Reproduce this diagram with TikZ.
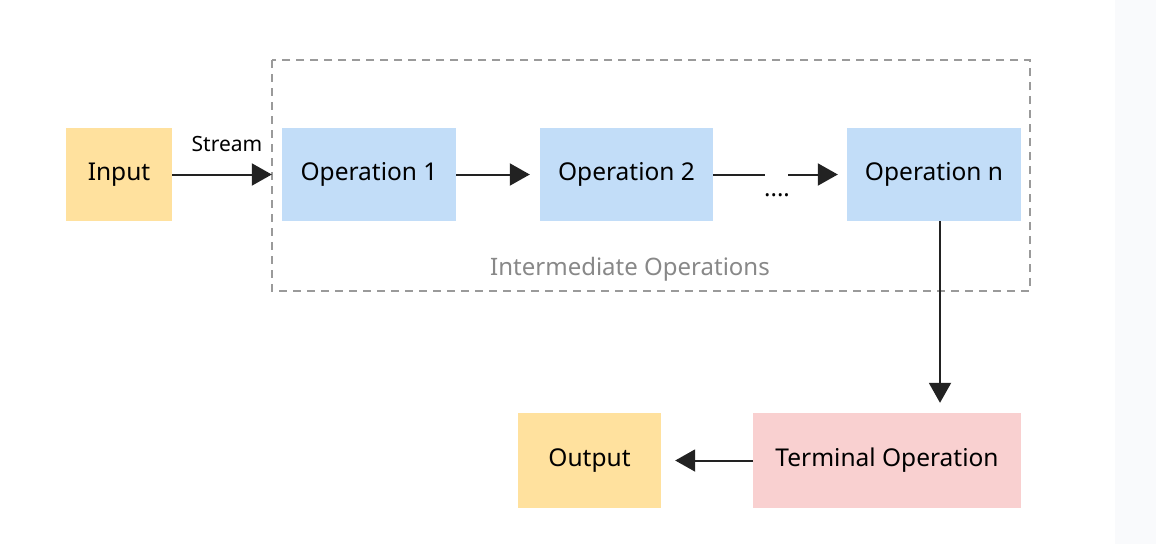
\documentclass[tikz,border=0pt]{standalone}
\usepackage{fontspec}
\setmainfont{Noto Sans}
\usetikzlibrary{arrows.meta}
\definecolor{ylw}{HTML}{FFE19E}
\definecolor{blu}{HTML}{C2DDF8}
\definecolor{pnk}{HTML}{F9D0D0}
\definecolor{ink}{HTML}{222222}
\definecolor{dashgray}{HTML}{9A9A9A}
\definecolor{lblgray}{HTML}{888888}
\definecolor{strip}{HTML}{F9FAFC}
\tikzset{
  box/.style={draw=none, inner sep=0pt, font=\fontsize{24.5}{28}\selectfont, text=black},
  conn/.style={draw=ink, line width=2pt, -{Triangle[length=20pt,width=22pt]}},
  plain/.style={draw=ink, line width=2pt},
}
\begin{document}
\begin{tikzpicture}[x=1pt,y=-1pt]
\path[use as bounding box, fill=white] (0,0) rectangle (1156,544);
\fill[strip] (1115,0) rectangle (1156,544);
\draw[dashgray, line width=1.2pt, dash pattern=on 8pt off 6pt] (272,60) rectangle (1030,291);
\node[box, fill=ylw, minimum width=106pt, minimum height=93pt] (in) at (119,174.5) {Input};
\node[box, fill=blu, minimum width=174pt, minimum height=93pt] (op1) at (369,174.5) {Operation 1};
\node[box, fill=blu, minimum width=173pt, minimum height=93pt] (op2) at (626.5,174.5) {Operation 2};
\node[box, fill=blu, minimum width=174pt, minimum height=93pt] (opn) at (934,174.5) {Operation n};
\node[box, fill=pnk, minimum width=268pt, minimum height=95pt] (term) at (887,460.5) {Terminal Operation};
\node[box, fill=ylw, minimum width=143pt, minimum height=95pt] (out) at (589.5,460.5) {Output};
\node[font=\fontsize{21}{24}\selectfont, text=black] (stream) at (227,144) {Stream};
\node[font=\fontsize{24}{28}\selectfont, text=lblgray] (inter) at (630,269.5) {Intermediate Operations};
\node[font=\fontsize{24}{26}\selectfont, text=black, inner sep=0pt, anchor=base] (dots) at (777,196) {....};
\coordinate (gapA) at (765,174.5);
\coordinate (gapB) at (788,174.5);
\draw[conn, shorten >=10pt] (in) -- (op1);
\draw[conn, shorten >=10pt] (op1) -- (op2);
\draw[plain] (op2.east) -- (gapA);
\draw[conn, shorten >=9pt] (gapB) -- (opn.west);
\draw[conn, shorten >=10pt] (opn.south -| 940,0) -- (term.north -| 940,0);
\draw[conn, shorten >=14pt] (term) -- (out);
\end{tikzpicture}
\end{document}
